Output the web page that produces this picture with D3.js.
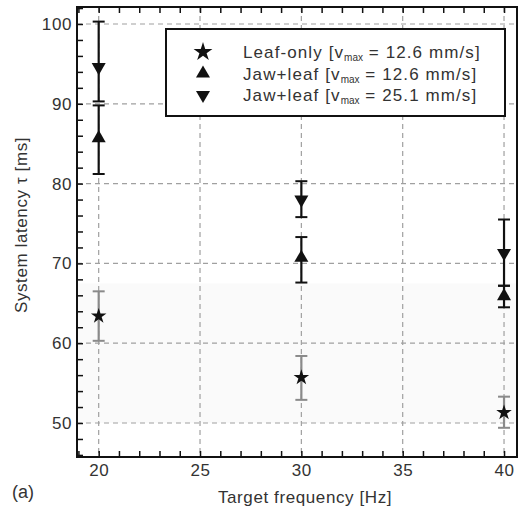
<!DOCTYPE html>
<html><head><meta charset="utf-8">
<script src="https://cdn.jsdelivr.net/npm/d3@7"></script>
<style>body{margin:0;background:#fff}svg{display:block}</style>
</head><body>
<script>
const freqs = [20, 30, 40];
const leafOnly = [63.4, 55.7, 51.3];
const leafOnlyLo = [60.3, 52.9, 49.4];
const leafOnlyHi = [66.5, 58.4, 53.3];
const jaw126 = [85.7, 70.7, 65.9];
const jaw126Lo = [81.2, 67.6, 64.5];
const jaw126Hi = [89.8, 73.3, 67.2];
const jaw251 = [94.6, 78.0, 71.3];
const jaw251Lo = [90.3, 75.8, 67.2];
const jaw251Hi = [100.3, 80.3, 75.5];
const xTicks = [20, 25, 30, 35, 40];
const yTicks = [50, 60, 70, 80, 90, 100];
const legendNames = ["Leaf-only", "Jaw+leaf", "Jaw+leaf"];
const legendV = ["12.6", "12.6", "25.1"];

const W = 518, H = 511;
const L = 77, R = 517, T = 7, B = 457;
const FONT = "'Liberation Sans', Arial, sans-serif";
const svg = d3.select("body").append("svg").attr("width", W).attr("height", H)
  .style("font-family", FONT);
const x = d3.scaleLinear().domain([18.93, 40.64]).range([L, R]);
const y = d3.scaleLinear().domain([45.74, 102.13]).range([B, T]);

// faint band
svg.append("rect").attr("x", L).attr("width", R - L)
  .attr("y", y(67.5)).attr("height", y(50) - y(67.5)).attr("fill", "#fafafa");

// grid
const g = svg.append("g");
g.selectAll(".gx").data(xTicks).join("line")
  .attr("x1", d => x(d)).attr("x2", d => x(d)).attr("y1", T).attr("y2", B)
  .attr("stroke", "#a0a0a0").attr("stroke-width", 1.2).attr("stroke-dasharray", "5,4");
g.selectAll(".gy").data(yTicks).join("line")
  .attr("y1", d => y(d)).attr("y2", d => y(d)).attr("x1", L).attr("x2", R)
  .attr("stroke", "#a0a0a0").attr("stroke-width", 1.2).attr("stroke-dasharray", "5,4");

// axes with inward ticks
const xMinor = d3.range(19, 41, 1);
const yMinor = d3.range(46, 103, 2);
const axB = svg.append("g").attr("transform", `translate(0,${B})`)
  .call(d3.axisBottom(x).tickValues(xMinor).tickSize(-6).tickFormat(""));
const axT = svg.append("g").attr("transform", `translate(0,${T})`)
  .call(d3.axisTop(x).tickValues(xMinor).tickSize(-6).tickFormat(""));
const axL = svg.append("g").attr("transform", `translate(${L},0)`)
  .call(d3.axisLeft(y).tickValues(yMinor).tickSize(-6).tickFormat(""));
[axB, axT, axL].forEach(a => {
  a.select(".domain").remove();
  a.selectAll("line").attr("stroke", "#111").attr("stroke-width", 1.5);
});
const axBl = svg.append("g").attr("transform", `translate(0,${B})`)
  .call(d3.axisBottom(x).tickValues(xTicks).tickSize(0).tickPadding(7));
const axLl = svg.append("g").attr("transform", `translate(${L},0)`)
  .call(d3.axisLeft(y).tickValues(yTicks).tickSize(0).tickPadding(5));
[axBl, axLl].forEach(a => {
  a.select(".domain").remove();
  a.selectAll("text").attr("font-size", 17).attr("fill", "#333")
    .style("font-family", FONT).style("letter-spacing", "0.6px");
});
svg.append("rect").attr("x", L).attr("y", T).attr("width", R - L).attr("height", B - T)
  .attr("fill", "none").attr("stroke", "#111").attr("stroke-width", 2);

// series
const series = [
  {v: leafOnly, lo: leafOnlyLo, hi: leafOnlyHi, sym: d3.symbolStar, size: 75, rot: 0, ec: "#8a8a8a"},
  {v: jaw126, lo: jaw126Lo, hi: jaw126Hi, sym: d3.symbolTriangle, size: 85, rot: 0, ec: "#111"},
  {v: jaw251, lo: jaw251Lo, hi: jaw251Hi, sym: d3.symbolTriangle, size: 85, rot: 180, ec: "#111"}
];
series.forEach(s => {
  const gg = svg.append("g");
  freqs.forEach((f, i) => {
    const cx = x(f);
    gg.append("line").attr("x1", cx).attr("x2", cx).attr("y1", y(s.lo[i])).attr("y2", y(s.hi[i]))
      .attr("stroke", s.ec).attr("stroke-width", 2.2);
    [s.lo[i], s.hi[i]].forEach(v => gg.append("line").attr("x1", cx - 6).attr("x2", cx + 6)
      .attr("y1", y(v)).attr("y2", y(v)).attr("stroke", s.ec).attr("stroke-width", 2));
    gg.append("path").attr("d", d3.symbol(s.sym, s.size)())
      .attr("transform", `translate(${cx},${y(s.v[i])}) rotate(${s.rot})`)
      .attr("fill", "#111");
  });
});

// legend
const lg = svg.append("g");
lg.append("rect").attr("x", 166).attr("y", 29).attr("width", 339).attr("height", 87)
  .attr("fill", "#fff").attr("stroke", "#111").attr("stroke-width", 2);
series.forEach((s, i) => {
  const ly = 52 + i * 21.5;
  lg.append("path").attr("d", d3.symbol(s.sym, s.sym === d3.symbolStar ? 110 : s.size)())
    .attr("transform", `translate(203,${ly}) rotate(${s.rot})`).attr("fill", "#111");
  const t = lg.append("text").attr("x", 243).attr("y", ly + 6).attr("font-size", 17)
    .attr("fill", "#333").style("letter-spacing", "1.1px");
  t.append("tspan").text(legendNames[i] + " [v");
  t.append("tspan").attr("font-size", 10).attr("dy", 3).style("letter-spacing", "0px").text("max");
  t.append("tspan").attr("dy", -3).text(" = " + legendV[i] + " mm/s]");
});

// labels
svg.append("text").attr("transform", `translate(27,225) rotate(-90)`).attr("text-anchor", "middle")
  .attr("font-size", 17).attr("fill", "#333").style("letter-spacing", "0.6px").text("System latency τ [ms]");
svg.append("text").attr("x", 305).attr("y", 503).attr("text-anchor", "middle")
  .attr("font-size", 17).attr("fill", "#333").style("letter-spacing", "0.6px").text("Target frequency [Hz]");
svg.append("text").attr("x", 12).attr("y", 498).attr("font-size", 18).attr("fill", "#333").text("(a)");
</script>
</body></html>
